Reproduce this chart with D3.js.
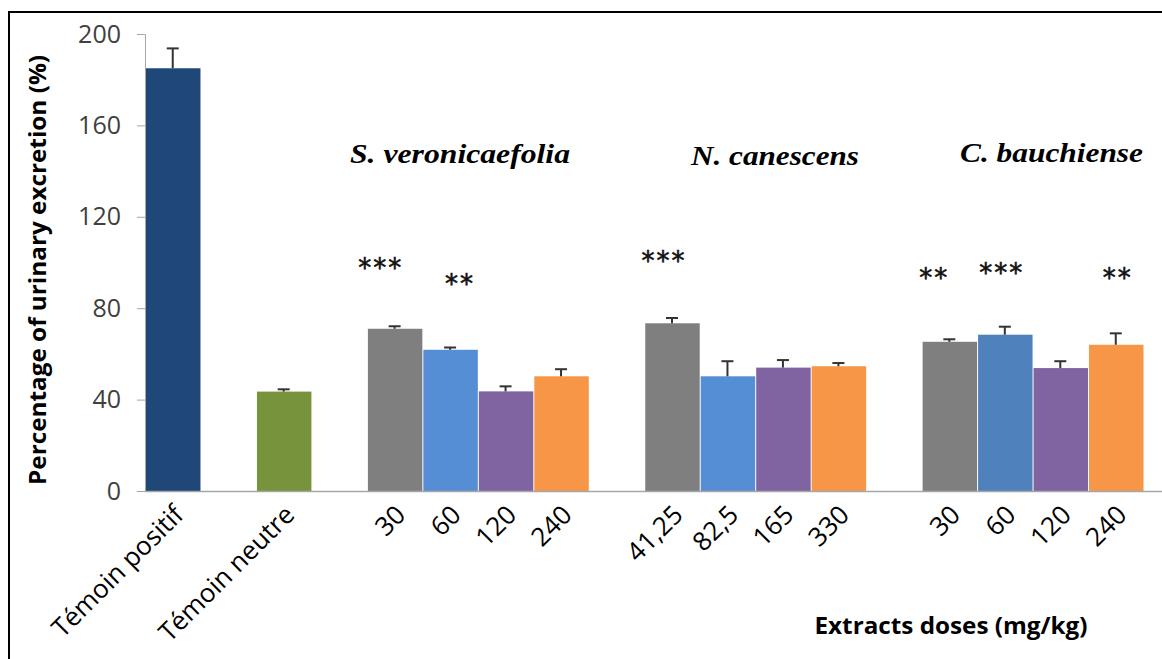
<!DOCTYPE html>
<html><head><meta charset="utf-8">
<script src="https://cdn.jsdelivr.net/npm/d3@7"></script>
<style>html,body{margin:0;padding:0;background:#fff;}svg{display:block;}</style>
</head><body>
<svg id="chart" width="1162" height="659"></svg>
<script>
const categories = ["Témoin positif","g1","Témoin neutre","g2","30","60","120","240","g3","41,25","82,5","165","330","g4","30 ","60 ","120 ","240 "];
const tickLabels = ["Témoin positif","","Témoin neutre","","30","60","120","240","","41,25","82,5","165","330","","30","60","120","240"];
const values = [185, null, 43.5, null, 71.0, 61.8, 43.6, 50.2, null, 73.4, 50.2, 54.0, 54.6, null, 65.3, 68.4, 53.8, 64.0];
const errors = [8.7, null, 1.0, null, 1.1, 1.0, 2.2, 3.1, null, 2.3, 6.6, 3.3, 1.4, null, 1.1, 3.5, 3.0, 5.0];
const barColors = ["#1F4778", null, "#77933C", null, "#7F7F7F", "#558ED5", "#8064A2", "#F79646", null, "#7F7F7F", "#558ED5", "#8064A2", "#F79646", null, "#7F7F7F", "#4F81BD", "#8064A2", "#F79646"];
const stars = [null, null, null, null, "***", "**", null, null, null, "***", null, null, null, null, "**", "***", null, "**"];
const starLevel = [null, null, null, null, 100, 93, null, null, null, 103, null, null, null, null, 95.4, 97.6, null, 95.4];
const species = ["S. veronicaefolia", "N. canescens", "C. bauchiense"];
const yTicks = [0, 40, 80, 120, 160, 200];

// layout-only offsets (not data)
const starDx = [0, 0, 0, 0, -15, 9, 0, 0, 0, -9, 0, 0, 0, 0, -16, -4, 0, 1];
const spX = [350, 691, 960], spW = [220, 168, 183], spY = [163, 165, 162];

const svg = d3.select("#chart");
svg.append("rect").attr("x", 9).attr("y", 12).attr("width", 1170).attr("height", 660)
  .attr("fill", "none").attr("stroke", "#000").attr("stroke-width", 2);

const x = d3.scaleBand().domain(categories).range([145, 1143.5]).paddingInner(0).paddingOuter(0);
const y = d3.scaleLinear().domain([0, 200]).range([491, 34]);

const yAxis = d3.axisLeft(y).tickValues(yTicks).tickSize(8).tickPadding(16);
const gy = svg.append("g").attr("transform", "translate(145,0)").call(yAxis);
gy.select(".domain").attr("stroke", "#A6A6A6").attr("d", "M-8,34.5H0.5V491.5");
gy.selectAll(".tick line").attr("stroke", "#A6A6A6");
gy.selectAll(".tick text").attr("font-family", "Open Sans, Liberation Sans, sans-serif")
  .attr("font-size", 25).attr("fill", "#404040");

const data = categories.map((c, i) => ({c, i, v: values[i], e: errors[i], col: barColors[i], s: stars[i], sl: starLevel[i], lab: tickLabels[i]}));
svg.append("g").selectAll("rect").data(data.filter(d => d.v != null)).join("rect")
  .attr("x", d => x(d.c) + 1).attr("width", x.bandwidth() - 1)
  .attr("y", d => y(d.v)).attr("height", d => y(0) - y(d.v))
  .attr("fill", d => d.col);

const eg = svg.append("g").attr("stroke", "#333").attr("stroke-width", 2);
data.filter(d => d.v != null).forEach(d => {
  const cx = x(d.c) + x.bandwidth() / 2;
  eg.append("line").attr("x1", cx).attr("x2", cx).attr("y1", y(d.v)).attr("y2", y(d.v + d.e));
  eg.append("line").attr("x1", cx - 6).attr("x2", cx + 6).attr("y1", y(d.v + d.e)).attr("y2", y(d.v + d.e));
});

svg.append("line").attr("x1", 145).attr("x2", 1162).attr("y1", 491.5).attr("y2", 491.5)
  .attr("stroke", "#A6A6A6").attr("stroke-width", 1.5);

svg.append("g").selectAll("text").data(data.filter(d => d.lab)).join("text")
  .attr("transform", d => `translate(${x(d.c) + x.bandwidth() / 2 + 6},${510}) rotate(-45)`)
  .attr("text-anchor", "end").attr("dy", "0.35em")
  .attr("font-family", "Open Sans, Liberation Sans, sans-serif").attr("font-size", 26).attr("fill", "#000")
  .text(d => d.lab);

const fsStar = 26;
svg.append("g").selectAll("text").data(data.filter(d => d.s)).join("text")
  .attr("x", d => x(d.c) + x.bandwidth() / 2 + starDx[d.i] + 1)
  .attr("y", d => y(d.sl) + fsStar * 0.55).attr("text-anchor", "middle")
  .attr("font-family", "DejaVu Sans, sans-serif").attr("font-size", fsStar).attr("letter-spacing", 2)
  .attr("fill", "#111").attr("stroke", "#111").attr("stroke-width", 0.6)
  .text(d => d.s);

species.forEach((s, i) => {
  svg.append("text").attr("x", spX[i]).attr("y", spY[i])
    .attr("font-family", "Liberation Serif, serif").attr("font-style", "italic").attr("font-weight", "bold")
    .attr("font-size", 27).attr("textLength", spW[i]).attr("lengthAdjust", "spacingAndGlyphs")
    .attr("fill", "#000").text(s);
});

svg.append("text").attr("transform", "translate(46,270) rotate(-90)").attr("text-anchor", "middle")
  .attr("font-family", "Open Sans, Liberation Sans, sans-serif").attr("font-weight", "bold").attr("font-size", 23)
  .attr("textLength", 430).attr("lengthAdjust", "spacingAndGlyphs")
  .attr("fill", "#000").text("Percentage of urinary excretion (%)");
svg.append("text").attr("x", 951).attr("y", 634).attr("text-anchor", "middle")
  .attr("font-family", "Open Sans, Liberation Sans, sans-serif").attr("font-weight", "bold").attr("font-size", 24)
  .attr("textLength", 273).attr("lengthAdjust", "spacingAndGlyphs")
  .attr("fill", "#000").text("Extracts doses (mg/kg)");
</script>
</body></html>
